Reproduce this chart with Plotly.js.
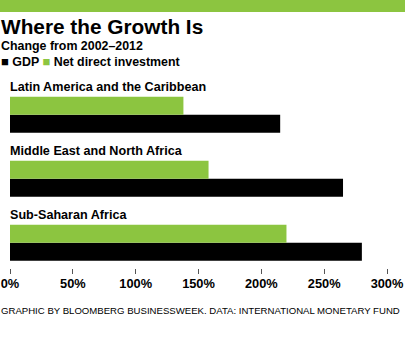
<!DOCTYPE html>
<html>
<head>
<meta charset="utf-8">
<script src="https://cdn.plot.ly/plotly-3.0.1.min.js"></script>
<style>
html,body{margin:0;padding:0;background:#fff;}
#chart{width:405px;height:350px;}
</style>
</head>
<body>
<div id="chart"></div>
<script>
const regions = ["Sub-Saharan Africa", "Middle East and North Africa", "Latin America and the Caribbean"];
const gdp = [280, 265, 215];
const netDirectInvestment = [220, 158, 138];
const tickValues = [0, 50, 100, 150, 200, 250, 300];
const tickLabels = ["0%", "50%", "100%", "150%", "200%", "250%", "300%"];

const GREEN = "#8cc540";
const FONT = "Liberation Sans, Arial, sans-serif";

const traces = [
  {type: "bar", orientation: "h", name: "GDP", y: regions, x: gdp,
   marker: {color: "#000000"}, hoverinfo: "skip"},
  {type: "bar", orientation: "h", name: "Net direct investment", y: regions, x: netDirectInvestment,
   marker: {color: GREEN}, hoverinfo: "skip"}
];

const labelAnnotations = regions.map(r => ({
  x: 0, y: r, xref: "x", yref: "y", xanchor: "left", yanchor: "middle",
  xshift: -2, yshift: 27.5, text: "<b>" + r + "</b>", showarrow: false,
  font: {family: FONT, size: 12.6, color: "#000"}
}));

const layout = {
  width: 405, height: 350,
  margin: {l: 10, r: 18, t: 80, b: 82, pad: 0},
  paper_bgcolor: "#fff", plot_bgcolor: "#fff",
  barmode: "group", bargap: 0.4375, bargroupgap: 0,
  showlegend: false,
  xaxis: {
    range: [0, 300], tickvals: tickValues, ticktext: tickLabels,
    showgrid: false, zeroline: false, showline: false,
    ticks: "outside", ticklen: 5, tickwidth: 1, tickcolor: "#555",
    tickfont: {family: FONT, size: 12.8, color: "#000", weight: "bold"},
    ticklabelstandoff: -1,
    fixedrange: true
  },
  yaxis: {
    type: "category", categoryorder: "array", categoryarray: regions,
    range: [-0.395, 2.542], showticklabels: false, showgrid: false,
    zeroline: false, showline: false, ticks: "", fixedrange: true
  },
  shapes: [
    {type: "rect", xref: "paper", yref: "paper", x0: -0.05, x1: 1.1,
     y0: 1 + 68/188, y1: 1 + 80/188, fillcolor: GREEN, line: {width: 0}}
  ],
  annotations: [
    {xref: "paper", yref: "paper", x: -11/377, y: 1 + 54/188, xanchor: "left", yanchor: "middle",
     text: "<b>Where the Growth Is</b>", showarrow: false,
     font: {family: FONT, size: 20.8, color: "#000"}},
    {xref: "paper", yref: "paper", x: -11/377, y: 1 + 34/188, xanchor: "left", yanchor: "middle",
     text: "<b>Change from 2002–2012</b>", showarrow: false,
     font: {family: FONT, size: 12.4, color: "#000"}},
    {xref: "paper", yref: "paper", x: -11/377, y: 1 + 18.5/188, xanchor: "left", yanchor: "middle",
     text: "<b><span style='color:#000;font-size:13px'>■</span> GDP <span style='color:" + GREEN + ";font-size:13px'>■</span> Net direct investment</b>",
     showarrow: false, font: {family: FONT, size: 12.4, color: "#000"}},
    {xref: "paper", yref: "paper", x: -11/377, y: -42/188, xanchor: "left", yanchor: "middle",
     text: "GRAPHIC BY BLOOMBERG BUSINESSWEEK. DATA: INTERNATIONAL MONETARY FUND",
     showarrow: false, font: {family: FONT, size: 9.6, color: "#000"}}
  ].concat(labelAnnotations)
};

Plotly.newPlot("chart", traces, layout, {displayModeBar: false, staticPlot: true});
</script>
</body>
</html>
